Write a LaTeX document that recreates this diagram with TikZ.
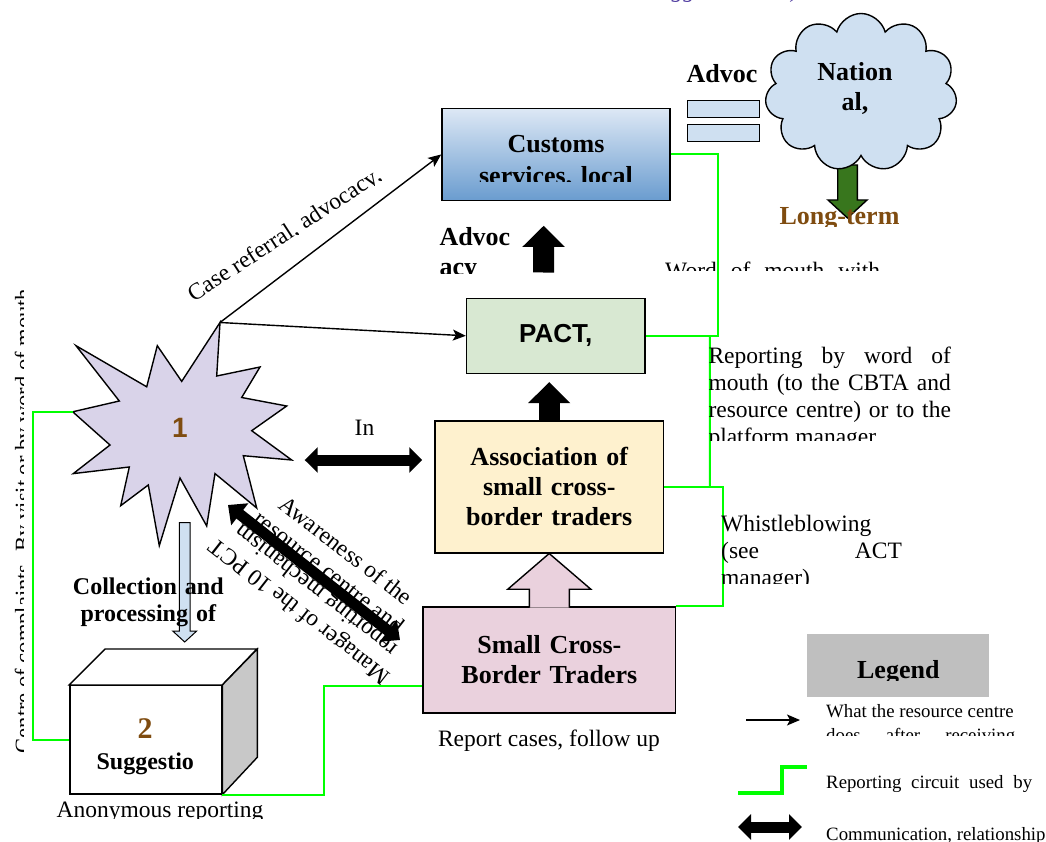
\documentclass[tikz,border=0pt]{standalone}
\usepackage{fontspec}
\setmainfont{Liberation Serif}
\newfontfamily\arialfam{Liberation Sans}
\usetikzlibrary{arrows.meta,shapes.symbols}
\definecolor{custtop}{RGB}{221,232,245}
\definecolor{custbot}{RGB}{106,156,207}
\definecolor{skyfill}{RGB}{207,224,241}
\definecolor{pactfill}{RGB}{216,232,210}
\definecolor{assocfill}{RGB}{254,241,206}
\definecolor{tradefill}{RGB}{234,209,221}
\definecolor{starfill}{RGB}{217,211,233}
\definecolor{greenline}{RGB}{0,255,0}
\definecolor{brownish}{RGB}{127,76,16}
\definecolor{leaf}{RGB}{56,118,29}
\definecolor{legendgray}{RGB}{191,191,191}
\definecolor{sidegray}{RGB}{200,200,200}
\definecolor{notepurple}{RGB}{80,60,160}
\newcommand{\fsreg}{\fontsize{23.5}{27}\selectfont}
\newcommand{\fsbold}{\fontsize{26}{30}\selectfont\bfseries}
\newcommand{\fsleg}{\fontsize{18.8}{24}\selectfont}
\newcommand{\natsp}{\spaceskip=0pt\xspaceskip=0pt\relax}
\newcommand{\jline}[2]{\makebox[#1][s]{\natsp #2}}

\begin{document}
\begin{tikzpicture}[x=1pt,y=-1pt,
  box/.style={draw,line width=1.6pt,inner sep=0pt,align=center,font=\fsbold},
  outline/.style={line width=1.4pt},
  reportline/.style={draw=greenline,line width=2pt},
  doarrow/.style={arrows={-Stealth[length=13pt,width=11pt,inset=3pt]},line width=1.4pt},
  commarrow/.style={arrows={Triangle[length=13pt,width=25pt]-Triangle[length=13pt,width=25pt]},line width=11pt},
  blockup/.style={arrows={-Triangle[length=21pt,width=41pt]},line width=21pt}]
\useasboundingbox (0,0) rectangle (1046,842);

\node[anchor=base west,inner sep=0pt,font=\fsreg\itshape,text=notepurple] (topnote) at (648,-2) {Suggestion box)};
\begin{scope}
\clip (0,250) rectangle (23,800);
\node[rotate=90,anchor=base,inner sep=0pt,font=\fontsize{22.5}{27}\selectfont] (sidenote) at (30.5,521) {Centre of complaints. By visit or by word of mouth};
\end{scope}

\node[box,top color=custtop,bottom color=custbot,minimum width=228pt,minimum height=92pt] (customs) at (556,154.5) {};
\begin{scope}
\clip (customs.north west) rectangle ([yshift=19.5pt]customs.south east);
\node[anchor=base,text width=220pt,align=center,inner sep=0pt,font={\fontsize{26}{32}\selectfont\bfseries}] (customs-txt) at (556,153) {Customs\\services, local};
\end{scope}

\node[draw,outline,fill=skyfill,minimum width=72pt,minimum height=16.6pt,inner sep=0pt] (bar1) at (723.3,109) {};
\node[draw,outline,fill=skyfill,minimum width=72pt,minimum height=16.6pt,inner sep=0pt] (bar2) at (723.3,133) {};
\node[anchor=base,inner sep=0pt,font=\fsbold] (advoc-top) at (722,83) {Advoc};

\coordinate (lt-arrow) at (847.5,165);
\draw[outline,fill=leaf] ([xshift=-9.8pt]lt-arrow) -- ++(0,35) -- ++(-9.7,0) -- ++(19.5,18) -- ++(19.5,-18) -- ++(-9.7,0) -- ++(0,-35) -- cycle;
\node[cloud,cloud puffs=11,aspect=1.7,draw,outline,fill=skyfill,minimum width=192pt,minimum height=158pt,inner sep=0pt] (nat) at (861,92.5) {};
\node[anchor=base,text width=120pt,align=center,inner sep=0pt,font=\fsbold] (nat-txt) at (855,81) {Nation\\al,};
\begin{scope}
\clip (740,190) rectangle (940,226.7);
\node[anchor=base,inner sep=0pt,font=\fsbold,text=brownish] (longterm) at (839.5,225) {Long-term};
\end{scope}

\node[box,fill=pactfill,minimum width=178.3pt,minimum height=75pt,font={\fontsize{26}{30}\arialfam\bfseries}] (pact) at (555.8,335.8) {PACT,};
\node[box,fill=assocfill,minimum width=228.3pt,minimum height=132pt,text width=220pt] (assoc) at (549.2,486.7) {Association of\\small cross-\\border traders};
\node[box,fill=tradefill,minimum width=252.7pt,minimum height=106pt,text width=240pt] (traders) at (549.3,660) {Small Cross-\\Border Traders};
\node[anchor=base,inner sep=0pt,font=\fsreg] (report) at (549,746.7) {Report cases, follow up};

\draw[blockup,shorten <=25pt,shorten >=24.5pt] ([xshift=-12.3pt]pact.north) -- ([xshift=-12.3pt]customs.south);
\draw[blockup,shorten >=8pt] (assoc.north) -- (assoc.north |- pact.south);
\draw[outline,fill=tradefill] ([xshift=-20pt,yshift=-1.5pt]traders.north) -- ([xshift=-20pt,yshift=17pt]traders.north) -- ++(-21.5,0) -- (assoc.south) -- ([xshift=41.5pt,yshift=17pt]traders.north) -- ++(-21.5,0) -- ([xshift=20pt,yshift=-1.5pt]traders.north);

\begin{scope}
\clip (430,220) rectangle (520,273);
\node[anchor=base west,text width=80pt,align=left,inner sep=0pt,font=\fsbold] (advoc-mid) at (439.3,246) {Advoc\\acy};
\end{scope}
\begin{scope}
\clip (655,250) rectangle (890,270);
\node[anchor=base west,inner sep=0pt,font=\fsreg] (wordmouth) at (665,278) {\jline{215pt}{Word of mouth with}};
\end{scope}

\draw[outline,fill=starfill] (220,322.5) -- (216.7,376) -- (260,367) -- (241.7,397.5) -- (286.7,406) -- (251.7,430.7) -- (291.7,460) -- (243.3,455.7) -- (256.7,508) -- (215,473.6) -- (206.7,526) -- (180,478) -- (159.3,545.7) -- (148.3,485) -- (120.7,505.7) -- (129.3,467) -- (73.3,473.6) -- (110,445) -- (72.7,411.8) -- (119.3,401) -- (76,345.7) -- (146.7,386.8) -- (157.3,345.7) -- (181.7,381.4) -- cycle;
\coordinate (star-ne) at (220,322.5);
\coordinate (star-w) at (72.7,411.8);
\coordinate (star-e) at (291.7,460);
\node[font={\fontsize{28}{30}\arialfam\bfseries},text=brownish] (one) at (180,428) {1};

\draw[doarrow] (star-ne) -- (customs.west);
\draw[doarrow] (star-ne) -- (pact.west);
\begin{scope}[shift={(288.4,240.7)},rotate=33]
\clip (-130pt,-0.3pt) rectangle (130pt,24pt);
\node[rotate=33,anchor=base,inner sep=0pt,font=\fsreg] (caseref) at (0,0) {Case referral, advocacy,};
\end{scope}

\node[anchor=base,inner sep=0pt,font=\fsreg] (in) at (364.5,435) {In};
\draw[commarrow,shorten <=13pt,shorten >=12pt] (star-e) -- (star-e -| assoc.west);

\node[rotate=-38,align=center,inner sep=0pt,font=\fsreg] (aware) at (338,561) {Awareness of the\\resource centre and};
\node[rotate=142,align=center,inner sep=0pt,font=\fsreg] (manager) at (308.6,600) {Manager of the 10 PCT\\reporting mechanism};
\coordinate (aw-a) at (228,505);
\coordinate (aw-b) at (400,640);
\draw[arrows={Triangle[length=15pt,width=27pt]-Triangle[length=15pt,width=27pt]},line width=11pt] (aw-a) -- (aw-b);

\node[draw,outline,fill=white,minimum width=151.7pt,minimum height=108.3pt,inner sep=0pt] (sugbox) at (145.8,739.8) {};
\draw[outline,fill=white] (sugbox.north west) -- ++(36,-36) -- ++(151.7,0) -- (sugbox.north east) -- cycle;
\draw[outline,fill=sidegray] (sugbox.north east) -- ++(35,-36) -- ++(0,108.3) -- (sugbox.south east) -- cycle;
\node[anchor=base,inner sep=0pt,font={\fontsize{30}{30}\selectfont\bfseries},text=brownish] (two) at (145,738.6) {2};
\node[anchor=base,inner sep=0pt,font={\fontsize{24}{27}\selectfont\bfseries}] (sugg) at (145.3,769) {Suggestio};
\begin{scope}
\clip (40,790) rectangle (290,818.5);
\node[anchor=base,inner sep=0pt,font=\fsreg] (anon) at (160,817.5) {Anonymous reporting};
\end{scope}

\coordinate (collect-top) at (184.7,522.5);
\draw[outline,line width=1pt,fill=skyfill] ([xshift=-5.4pt]collect-top) -- ++(0,108.5) -- ++(-6.6,0) -- ++(12,11) -- ++(12,-11) -- ++(-6.6,0) -- ++(0,-108.5) -- cycle;
\node[anchor=base,text width=170pt,align=center,inner sep=0pt,font={\fontsize{24}{27}\selectfont\bfseries}] (collect) at (148.3,594) {Collection and\\processing of};

\draw[reportline] (star-w) -- ++(-40,0) |- (sugbox.west);
\draw[reportline] (sugbox.south east) -- ++(101.3,0) |- ([yshift=-26pt]traders.west);
\draw[reportline] (customs.east) -- ++(46.7,0) |- (pact.east);
\draw[reportline] ([xshift=64pt]pact.east) -- ([xshift=45.7pt]assoc.east);
\draw[reportline] (assoc.east) -- ++(59,0) |- (traders.north east);

\begin{scope}
\clip (700,330) rectangle (960,440);
\node[anchor=base west,text width=245pt,align=left,inner sep=0pt,font=\fsreg] (reporting) at (708.3,363.3) {\natsp\jline{242.4pt}{Reporting by word of}\\\jline{242.4pt}{mouth (to the CBTA and}\\\jline{242.4pt}{resource centre) or to the}\\platform manager};
\end{scope}
\begin{scope}
\clip (715,500) rectangle (910,583.3);
\node[anchor=base west,text width=185pt,align=left,inner sep=0pt,font=\fsreg] (whistle) at (721,531.7) {\natsp Whistleblowing\\\jline{180.7pt}{(see ACT}\\manager)};
\end{scope}

\node[fill=legendgray,minimum width=182pt,minimum height=63pt,inner sep=0pt] (legend) at (898,665.5) {};
\begin{scope}
\clip (800,630) rectangle (1000,680);
\node[anchor=base,inner sep=0pt,font=\fsbold] (legend-txt) at (898.3,678.3) {Legend};
\end{scope}
\coordinate (lg-a) at (746,720);
\coordinate (lg-b) at (800,720);
\draw[doarrow] (lg-a) -- (lg-b);
\begin{scope}
\clip (820,700) rectangle (1040,735);
\node[anchor=base west,text width=210pt,align=left,inner sep=0pt,font=\fsleg] (lg-txt1) at (826,717) {\natsp What the resource centre\\\jline{189pt}{does after receiving}};
\end{scope}
\coordinate (lg-g1) at (738,793);
\coordinate (lg-g2) at (807,767);
\draw[reportline,line width=3.5pt] (lg-g1) -- ++(44,0) |- (lg-g2);
\node[anchor=base west,inner sep=0pt,font=\fsleg] (lg-txt2) at (826,788.3) {\jline{206pt}{Reporting circuit used by}};
\coordinate (lg-c) at (738,827);
\coordinate (lg-d) at (802,827);
\draw[commarrow] (lg-c) -- (lg-d);
\node[anchor=base west,inner sep=0pt,font=\fsleg] (lg-txt3) at (826,840) {Communication, relationship};
\end{tikzpicture}
\end{document}
